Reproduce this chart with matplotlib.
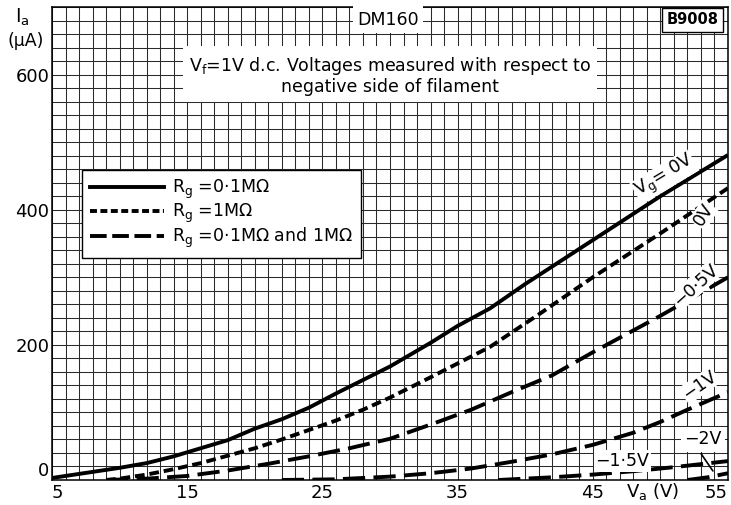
import numpy as np
import matplotlib
matplotlib.use("Agg")
import matplotlib.pyplot as plt
from matplotlib.lines import Line2D

plt.rcParams['font.family'] = ['DejaVu Sans']
plt.rcParams['lines.scale_dashes'] = False
plt.rcParams['mathtext.default'] = 'regular'

# ---------------- data ----------------
va_rg01_0v = [5, 8, 10, 12, 14, 16, 18, 20, 22, 24, 26, 28, 30, 33, 35, 37.4, 40, 45, 50, 55]
ia_rg01_0v = [3, 12, 18, 25, 35, 47, 59, 76, 90, 107, 128, 148, 168, 203, 228, 254, 290, 355, 420, 481]

va_rg1_0v = [9, 10, 12, 14, 16, 18, 20, 22, 24, 26, 28, 30, 33, 37.4, 41, 45, 50, 55]
ia_rg1_0v = [0, 2, 8, 16, 25, 36, 47, 60, 74, 88, 104, 122, 152, 197, 245, 300, 365, 432]

va_m05 = [9, 12, 15, 18, 21, 24, 27, 30, 33, 36, 39, 42, 45, 50, 55]
ia_m05 = [0, 2, 6, 14, 24, 35, 47, 61, 82, 104, 130, 155, 189, 243, 300]

va_m1 = [22, 26, 30, 33, 36, 39, 42, 45, 48, 50, 52, 55]
ia_m1 = [0, 1, 5, 10, 17, 27, 38, 52, 70, 86, 104, 130]

va_m15 = [38, 42, 45, 48, 51, 55]
ia_m15 = [0, 4, 8, 13, 19, 28]

va_m2 = [52, 53.5, 55]
ia_m2 = [0, 4, 10]

x_ticks = [5, 15, 25, 35, 45, 55]
y_ticks = [0, 200, 400, 600]
legend_labels = [r'R$_g$ =0·1MΩ', r'R$_g$ =1MΩ', r'R$_g$ =0·1MΩ and 1MΩ']

FS = 12.5

# ---------------- figure ----------------
fig = plt.figure(figsize=(7.31, 5.05), dpi=100)
ax = fig.add_axes([52/731, 25/505, 676/731, 473/505])
ax.set_xlim(5, 55)
ax.set_ylim(0, 700)

# grid
ax.set_xticks(np.arange(5, 56, 1), minor=True)
ax.set_yticks(np.arange(0, 701, 20), minor=True)
ax.set_xticks(x_ticks)
ax.set_yticks(y_ticks)
ax.grid(which='both', color='#2a2a2a', lw=0.75)
ax.set_axisbelow(True)
ax.tick_params(which='both', length=0)
ax.tick_params(axis='x', pad=3, labelsize=13)
ax.tick_params(axis='y', pad=2, labelsize=13)
for s in ax.spines.values():
    s.set_linewidth(1.1)
    s.set_color('black')

xl = ax.set_xticklabels([str(v) for v in x_ticks])
xl[0].set_ha('left')
xl[-1].set_ha('right')
yl = ax.set_yticklabels([str(v) for v in y_ticks])
yl[0].set_va('bottom')

LW = 2.8
short_dash = (0, (7, 3.5))
long_dash = (0, (16, 6))

ax.plot(va_rg01_0v, ia_rg01_0v, color='black', lw=LW, solid_capstyle='butt', zorder=5)
ax.plot(va_rg1_0v, ia_rg1_0v, color='black', lw=LW, ls=short_dash, zorder=5)
for vx, iy in [(va_m05, ia_m05), (va_m1, ia_m1), (va_m15, ia_m15), (va_m2, ia_m2)]:
    ax.plot(vx, iy, color='black', lw=LW, ls=long_dash, zorder=5, clip_on=True)

# legend
handles = [Line2D([], [], color='black', lw=LW),
           Line2D([], [], color='black', lw=LW, ls=(0, (5, 2.5))),
           Line2D([], [], color='black', lw=LW, ls=(0, (12, 4)))]
leg = ax.legend(handles, legend_labels, loc='upper left',
                bbox_to_anchor=((82-52)/676, (480-170)/473), borderaxespad=0,
                fontsize=FS, handlelength=4.3, handletextpad=0.45, labelspacing=0.05,
                borderpad=0.45, fancybox=False, framealpha=1, edgecolor='black')
leg.get_frame().set_linewidth(1.0)
leg.set_zorder(6)

# text boxes
ax.text(30.0, 599, 'V$_f$=1V d.c. Voltages measured with respect to\nnegative side of filament',
        ha='center', va='center', multialignment='center', fontsize=FS, zorder=6,
        linespacing=1.1,
        bbox=dict(boxstyle='square,pad=0.35', fc='white', ec='none'))
ax.text(29.85, 681, 'DM160', ha='center', va='center', fontsize=FS, zorder=6,
        bbox=dict(boxstyle='square,pad=0.25', fc='white', ec='none'))
ax.text(52.4, 681, 'B9008', ha='center', va='center', fontsize=10.5, fontweight='bold', zorder=6,
        bbox=dict(boxstyle='square,pad=0.3', fc='white', ec='black', lw=1))

# curve labels
ax.text(50.3, 449, r'V$_g$= 0V', rotation=31, rotation_mode='anchor', ha='center', va='center',
        fontsize=FS, zorder=6, bbox=dict(boxstyle='square,pad=0.05', fc='white', ec='none'))
ax.text(53.2, 392, '0V', rotation=58, rotation_mode='anchor', ha='center', va='center',
        fontsize=FS, zorder=6, bbox=dict(boxstyle='square,pad=0.05', fc='white', ec='none'))
ax.text(52.6, 288, '−0·5V', rotation=42, rotation_mode='anchor', ha='center', va='center',
        fontsize=FS, zorder=6, bbox=dict(boxstyle='square,pad=0.05', fc='white', ec='none'))
ax.text(52.9, 140, '−1V', rotation=35, rotation_mode='anchor', ha='center', va='center',
        fontsize=FS, zorder=6, bbox=dict(boxstyle='square,pad=0.05', fc='white', ec='none'))
ax.text(47.2, 28, '−1·5V', ha='center', va='center', fontsize=FS, zorder=6,
        bbox=dict(boxstyle='square,pad=0.1', fc='white', ec='none'))
ax.text(53.15, 60, '−2V', ha='center', va='center', fontsize=FS, zorder=6,
        bbox=dict(boxstyle='square,pad=0.2', fc='white', ec='none'))
ax.annotate('', xy=(54.0, 10), xytext=(52.9, 42),
            arrowprops=dict(arrowstyle='-', color='black', lw=1.2), zorder=6)

# axis titles
fig.text(22/731, 1-17/505, r'I$_a$', ha='center', va='center', fontsize=13.5)
fig.text(26/731, 1-41/505, '(µA)', ha='center', va='center', fontsize=12.5)
fig.text(653/731, 1-491/505, r'V$_a$ (V)', ha='center', va='center', fontsize=13)

fig.savefig('out.png', dpi=100)
